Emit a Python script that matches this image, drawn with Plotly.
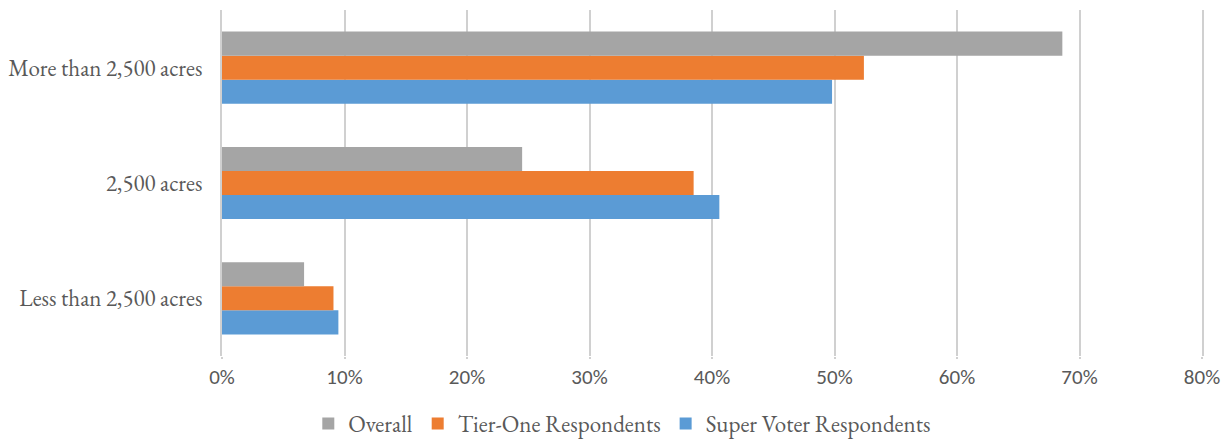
import plotly.graph_objects as go

categories = ["Less than 2,500 acres", "2,500 acres", "More than 2,500 acres"]
overall = [0.067, 0.245, 0.686]
tier_one = [0.091, 0.385, 0.524]
super_voter = [0.095, 0.406, 0.498]
tick_vals = [0, 0.1, 0.2, 0.3, 0.4, 0.5, 0.6, 0.7, 0.8]
tick_text = ["0%", "10%", "20%", "30%", "40%", "50%", "60%", "70%", "80%"]

FONT = "Garamond, 'EB Garamond', 'Liberation Serif', 'DejaVu Serif', serif"
SANS = "Calibri, Carlito, Lato, 'Liberation Sans', sans-serif"
TXT = "#595959"
GRID = "#d0d0d0"

fig = go.Figure()
fig.add_trace(go.Bar(y=categories, x=super_voter, name="Super Voter Respondents",
                     orientation="h", marker=dict(color="#5B9BD5", line=dict(width=0))))
fig.add_trace(go.Bar(y=categories, x=tier_one, name="Tier-One Respondents",
                     orientation="h", marker=dict(color="#ED7D31", line=dict(width=0))))
fig.add_trace(go.Bar(y=categories, x=overall, name="Overall",
                     orientation="h", marker=dict(color="#A5A5A5", line=dict(width=0))))

fig.update_layout(
    width=1225, height=445,
    margin=dict(l=222, r=23, t=10, b=89, autoexpand=False),
    paper_bgcolor="white", plot_bgcolor="white",
    barmode="group", bargap=0.374, bargroupgap=0,
    font=dict(family=FONT, size=23, color=TXT),
    showlegend=True,
    legend=dict(orientation="h", traceorder="reversed",
                xref="container", yref="container",
                x=0.508, y=0.0, xanchor="center", yanchor="bottom",
                font=dict(family=FONT, size=23, color=TXT),
                itemwidth=30, bgcolor="rgba(0,0,0,0)"),
    xaxis=dict(range=[0, 0.8], tickvals=tick_vals, ticktext=tick_text,
               showgrid=True, gridcolor=GRID, gridwidth=2,
               zeroline=False, showline=False, automargin=False,
               ticks="outside", ticklen=2, tickcolor=GRID, tickwidth=2,
               tickfont=dict(family=SANS, size=21, color=TXT)),
    yaxis=dict(categoryorder="array", categoryarray=categories,
               range=[-0.5, 2.5], showgrid=False, zeroline=False,
               showline=True, mirror=True, linecolor=GRID, linewidth=2,
               ticks="", ticklabelstandoff=13, automargin=False,
               tickfont=dict(family=FONT, size=23, color=TXT)),
)

fig.write_html("out.html",
               config={"displayModeBar": False},
               post_script="document.body.style.margin='0';document.body.style.padding='0';")
